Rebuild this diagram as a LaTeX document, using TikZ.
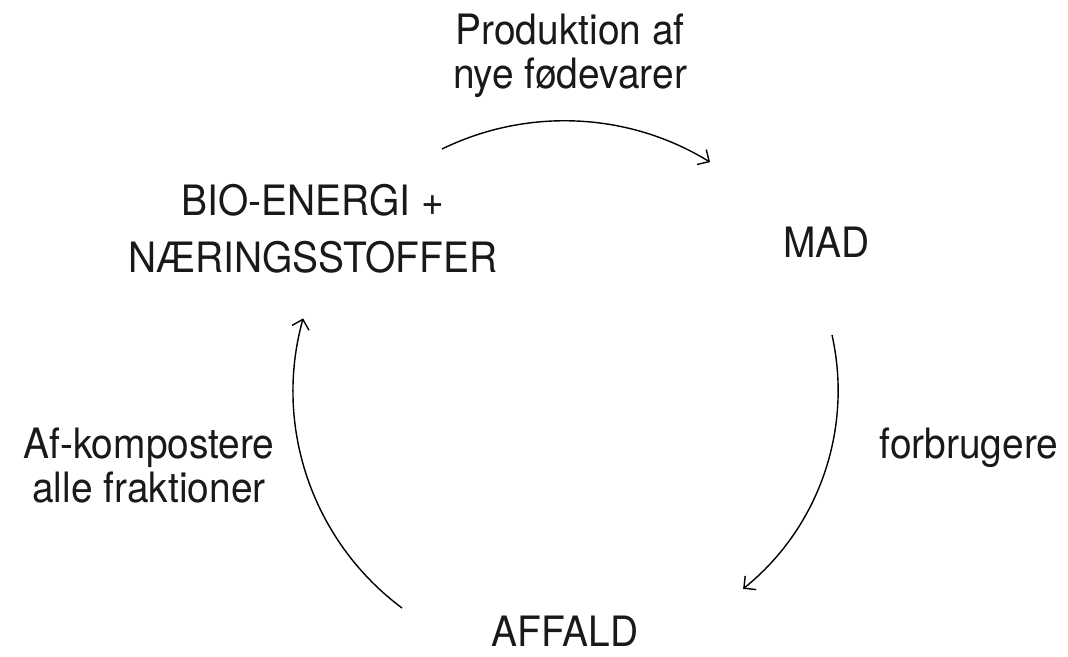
\documentclass[tikz,border=0pt]{standalone}
\usepackage{fontspec}
\setmainfont{TeX Gyre Heros}[FakeStretch=0.93]
\usetikzlibrary{arrows.meta}

\begin{document}
\begin{tikzpicture}[line width=0.8pt, >={Straight Barb[length=5pt,width=10pt]},
		every node/.style={inner sep=0pt, text=black!90, font=\fontsize{23.8}{25}\selectfont}]
		\useasboundingbox (0, 0) rectangle (21.36, 13.12);
		
		% Tekster (anchor=base ligger paa sidste linje)
		\node[anchor=base, align=center] (prod) at (11.4, 11.36) {Produktion af\\nye fødevarer};
		\node[anchor=base, align=center, font=\fontsize{23.8}{32.4}\selectfont] (bio) at (6.26, 7.68) {BIO-ENERGI +\\NÆRINGSSTOFFER};
		\node[anchor=base] (mad) at (16.53, 7.98) {MAD};
		\node[anchor=base] (forb) at (19.38, 3.96) {forbrugere};
		\node[anchor=base, align=center] (komp) at (2.98, 3.08) {Af-kompostere\\alle fraktioner};
		\node[anchor=base] (affald) at (11.3, 0.2) {AFFALD};
		
		% Buer
		\coordinate (topstart) at (8.84, 10.14);
		\coordinate (rightstart) at (16.64, 6.42);
		\coordinate (leftstart) at (8.04, 0.96);
		
		\draw[->] (topstart) arc[start angle=116, end angle=58.4, radius=5.57];
		\draw[->] (rightstart) arc[start angle=12.6, end angle=-51.2, radius=5.09];
		\draw[->] (leftstart) arc[start angle=233.3, end angle=164.4, radius=5.41];
	\end{tikzpicture}
\end{document}
